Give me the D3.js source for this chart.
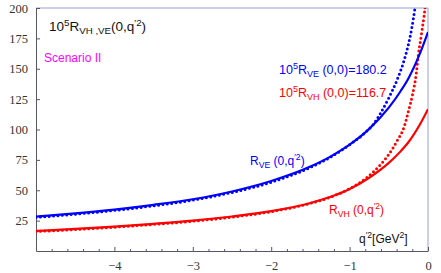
<!DOCTYPE html>
<html>
<head>
<meta charset="utf-8">
<script src="https://cdn.jsdelivr.net/npm/d3@7"></script>
<style>
  body { margin: 0; background: #fff; }
  svg { display: block; }
  .lab { font-family: "Liberation Sans", Arial, sans-serif; }
</style>
</head>
<body>
<svg></svg>
<script>
// chart values

var xTicks = [-4, -3, -2, -1, 0];
var yTicks = [25, 50, 75, 100, 125, 150, 175, 200];

// solid curves
var veSolidQ = [-5, -4.5, -4, -3.5, -3, -2.5, -2, -1.5, -1.25, -1, -0.75, -0.5, -0.35, -0.25, -0.1, 0];
var veSolidV = [28.4, 31.0, 34.1, 38.0, 42.6, 49.0, 57.6, 69.5, 77.5, 87.5, 100.5, 118.0, 131.5, 142.0, 163.0, 180.2];
var vhSolidQ = [-5, -4.5, -4, -3.5, -3, -2.5, -2, -1.5, -1.25, -1, -0.75, -0.5, -0.35, -0.25, -0.1, 0];
var vhSolidV = [16.5, 18.2, 20.1, 22.4, 25.0, 28.4, 32.8, 39.5, 44.4, 51.0, 60.3, 72.5, 82.0, 89.5, 104.5, 116.7];

// dotted curves
var veDotQ = [-5, -4.5, -4, -3.5, -3, -2.5, -2, -1.5, -1.25, -1, -0.8, -0.7, -0.6, -0.5, -0.4, -0.3, -0.25, -0.2, -0.166, -0.14];
var veDotV = [27.6, 30.3, 33.4, 37.2, 41.8, 48.2, 56.6, 68.8, 77.0, 87.5, 97.5, 104.0, 114.0, 126.0, 140.0, 158.0, 170.0, 186.0, 200.0, 212.0];
var vhDotQ = [-5, -4.5, -4, -3.5, -3, -2.5, -2, -1.5, -1.25, -1, -0.8, -0.7, -0.6, -0.5, -0.4, -0.3, -0.25, -0.2, -0.15, -0.124, -0.08, -0.04, -0.02];
var vhDotV = [16.0, 17.7, 19.6, 21.9, 24.5, 27.9, 32.4, 39.2, 44.2, 51.3, 59.5, 65.0, 71.5, 79.5, 90.0, 103.0, 115.0, 128.0, 146.0, 161.0, 180.0, 199.0, 212.0];

var width = 441,
	height = 273,
	margin = {left: 36, right: 13, top: 8, bottom: 22};

var x = d3.scaleLinear()
			.domain([-5, 0])
			.range([margin.left, width - margin.right]);

var y = d3.scaleLinear()
			.domain([0, 200])
			.range([height - margin.bottom, margin.top]);

var svg = d3.select('svg')
			.attr('width', width)
			.attr('height', height);

svg.append('clipPath')
	.attr('id', 'plotclip')
	.append('rect')
	.attr('x', x(-5))
	.attr('y', y(200))
	.attr('width', x(0) - x(-5))
	.attr('height', y(0) - y(200));

// frame: top and right are light, left and bottom darker
svg.append('line')
	.attr('x1', x(-5)).attr('x2', x(0))
	.attr('y1', y(200)).attr('y2', y(200))
	.attr('stroke', '#9b9bdc').attr('stroke-width', 1);
svg.append('line')
	.attr('x1', x(0)).attr('x2', x(0))
	.attr('y1', y(200)).attr('y2', y(0))
	.attr('stroke', '#9b9bdc').attr('stroke-width', 1);

// axes, ticks drawn inward like mathematica
var xAxis = d3.axisBottom(x)
			  .tickValues(xTicks)
			  .tickSize(-4)
			  .tickSizeOuter(0)
			  .tickPadding(10)
			  .tickFormat(d => d === 0 ? '0' : '\u2212' + Math.abs(d));

var xMinor = d3.axisBottom(x)
			  .tickValues(d3.range(-49, 1).map(d => d / 10).filter(d => Math.round(d * 10) % 2 === 0 && Math.round(d * 10) % 10 !== 0))
			  .tickSize(-2)
			  .tickSizeOuter(0)
			  .tickFormat('');

var yAxis = d3.axisLeft(y)
			  .tickValues(yTicks)
			  .tickSize(-4)
			  .tickSizeOuter(0)
			  .tickPadding(8);

svg.append('g')
	.attr('transform', 'translate(0,' + y(0) + ')')
	.call(xAxis);

svg.append('g')
	.attr('transform', 'translate(0,' + y(0) + ')')
	.call(xMinor)
	.call(g => g.select('.domain').remove());

svg.append('g')
	.attr('transform', 'translate(' + x(-5) + ',0)')
	.call(yAxis);

svg.selectAll('.domain').attr('stroke', '#56566a');
svg.selectAll('.tick line').attr('stroke', '#56566a');
svg.selectAll('.tick text')
	.attr('font-family', 'Liberation Serif, serif')
	.attr('font-size', 12.5)
	.attr('fill', '#333');

// curves
var line = d3.line()
	.x(d => x(d[0]))
	.y(d => y(d[1]))
	.curve(d3.curveMonotoneX);

var curves = [
	{q: veDotQ, v: veDotV, color: '#0000ff', dotted: true},
	{q: vhDotQ, v: vhDotV, color: '#ff0000', dotted: true},
	{q: veSolidQ, v: veSolidV, color: '#0000ff', dotted: false},
	{q: vhSolidQ, v: vhSolidV, color: '#ff0000', dotted: false}
];

var plot = svg.append('g').attr('clip-path', 'url(#plotclip)');

plot.selectAll('path.curve')
	.data(curves)
	.enter()
	.append('path')
		.attr('class', 'curve')
		.attr('d', c => line(c.q.map((q, i) => [q, c.v[i]])))
		.attr('fill', 'none')
		.attr('stroke', c => c.color)
		.attr('stroke-width', c => c.dotted ? 3 : 2.2)
		.attr('stroke-linecap', c => c.dotted ? 'round' : 'butt')
		.attr('stroke-dasharray', c => c.dotted ? '0 4.4' : null);

// labels
function richText(px, py, color, size, parts) {
	var t = svg.append('text')
		.attr('class', 'lab')
		.attr('x', px)
		.attr('y', py)
		.attr('fill', color)
		.style('font-size', size + 'px');
	var shift = 0;
	parts.forEach(p => {
		var s = p[1] === 'sup' ? -0.38 * size : p[1] === 'sub' ? 0.25 * size : 0;
		t.append('tspan')
			.attr('dy', s - shift)
			.style('font-size', p[1] ? (0.72 * size) + 'px' : null)
			.text(p[0]);
		shift = s;
	});
	return t;
}

richText(49, 31, '#111', 13.5, [['10'], ['5', 'sup'], ['R'], ['VH ,VE', 'sub'], ['(0,q'], ['\u20322', 'sup'], [')']]);

svg.append('text')
	.attr('class', 'lab')
	.attr('x', 44)
	.attr('y', 62)
	.attr('fill', '#ff00ff')
	.style('font-size', '12px')
	.text('Scenario II');

richText(279, 74, '#0000ff', 12.5, [['10'], ['5', 'sup'], ['R'], ['VE', 'sub'], [' (0,0)=180.2']]);
richText(279, 97, '#ff0000', 12.5, [['10'], ['5', 'sup'], ['R'], ['VH', 'sub'], [' (0,0)=116.7']]);
richText(250, 165, '#0000ff', 12, [['R'], ['VE', 'sub'], [' (0,q'], ['\u20322', 'sup'], [')']]);
richText(329, 214, '#ff0000', 12, [['R'], ['VH', 'sub'], [' (0,q'], ['\u20322', 'sup'], [')']]);
richText(359, 243, '#111', 12, [['q'], ['\u20322', 'sup'], ['[GeV'], ['2', 'sup'], [']']]);
</script>
</body>
</html>
